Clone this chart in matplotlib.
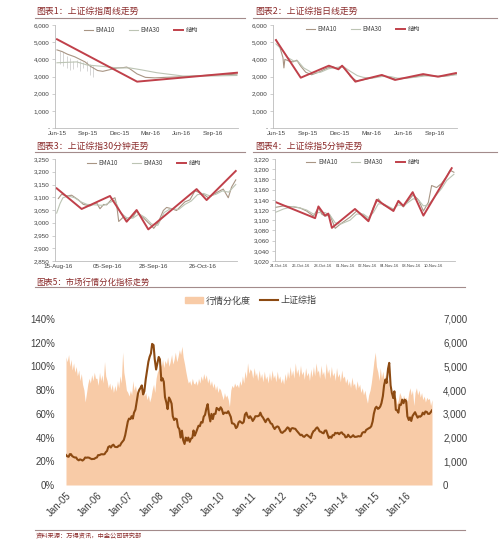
import numpy as np
import pandas as pd
import matplotlib
matplotlib.use('Agg')
import matplotlib.pyplot as plt
from matplotlib.lines import Line2D
from matplotlib.patches import Patch

plt.rcParams['font.family'] = ['Liberation Sans', 'Noto Sans CJK SC', 'DejaVu Sans']
CJK = ['Noto Sans CJK SC', 'Liberation Sans', 'DejaVu Sans']

# ---------------- data ----------------
titles = ['图表1：上证综指周线走势', '图表2：上证综指日线走势',
          '图表3：上证综指30分钟走势', '图表4：上证综指5分钟走势',
          '图表5：市场行情分化指标走势']
legend_small = ['EMA10', 'EMA30', '结构']
legend_big = ['行情分化度', '上证综指']
source_text = '资料来源：万得资讯，中金公司研究部'

# chart 1 (weekly) x = months since Jun-2015
c1_xticks = [0, 3, 6, 9, 12, 15]
c1_xlabels = ['Jun-15', 'Sep-15', 'Dec-15', 'Mar-16', 'Jun-16', 'Sep-16']
c1_struct_m = [0, 7.7, 17.3]
c1_struct_v = [5170, 2700, 3220]
c1_ema10_m = [0, 0.5, 1.0, 1.7, 2.2, 2.7, 3.2, 3.9, 4.4, 5.1, 5.8, 6.4, 6.7, 7.0, 7.7, 8.5,
              9.4, 10.4, 11.8, 13.3, 14.7, 16.2, 17.3]
c1_ema10_v = [4550, 4450, 4300, 4150, 4000, 3850, 3600, 3350, 3300, 3400, 3500, 3520, 3550, 3450,
              3150, 2950, 2920, 2950, 2980, 3030, 3080, 3100, 3140]
c1_ema30_m = [0, 1.9, 2.9, 4.2, 5.8, 7.0, 8.0, 9.6, 12.1, 14.8, 17.3]
c1_ema30_v = [3800, 3850, 3670, 3600, 3500, 3500, 3400, 3220, 3030, 3030, 3060]
c1_bar_m = [0.29, 0.61, 0.93, 1.25, 1.57, 1.89, 2.21, 2.53, 2.85, 3.17, 3.49]
c1_bar_hi = [4500, 4400, 4200, 4100, 3900, 3950, 3900, 3850, 3900, 3700, 3600]
c1_bar_lo = [3700, 3600, 3500, 3400, 3450, 3550, 3300, 3500, 3300, 3100, 3000]

# chart 2 (daily)
c2_struct_m = [0, 2.34, 5.0, 5.9, 6.25, 7.5, 8.3, 10.0, 11.25, 13.9, 15.3, 17.0]
c2_struct_v = [5120, 2930, 3630, 3420, 3630, 2700, 2830, 3090, 2800, 3140, 2990, 3200]
c2_ema10_m = [0, 0.37, 0.66, 0.75, 0.84, 1.22, 1.59, 1.97, 2.34, 2.81, 3.37, 4.03, 4.69, 5.25,
              5.81, 6.19, 6.56, 7.03, 7.59, 8.15, 8.9, 9.84, 10.59, 11.34, 12.18, 13.12, 14.06,
              14.71, 15.46, 16.4, 17.06]
c2_ema10_v = [5150, 4700, 4100, 3500, 4000, 3900, 3850, 3950, 3600, 3250, 3100, 3250, 3450, 3580,
              3480, 3600, 3450, 3000, 2750, 2800, 2900, 3050, 3000, 2830, 2900, 2980, 3080,
              3050, 2990, 3050, 3150]
c2_ema30_m = [0, 0.66, 1.12, 1.69, 2.06, 2.62, 3.47, 4.22, 4.97, 5.62, 6.37, 7.03, 7.69, 8.25,
              9.09, 10.03, 10.78, 11.5, 12.65, 14.06, 15.46, 17.06]
c2_ema30_v = [4900, 4500, 4100, 3900, 3900, 3500, 3200, 3250, 3450, 3520, 3580, 3300, 3050, 2950,
              2900, 3000, 3000, 2900, 2920, 3030, 3020, 3100]

# chart 3 (30 min) x = bar number
c3_xticks = [0, 120, 228, 348]
c3_xlabels = ['15-Aug-16', '05-Sep-16', '28-Sep-16', '26-Oct-16']
c3_struct_x = [-3, 57, 125, 165, 189, 217, 333, 357, 427]
c3_struct_v = [3135, 3054, 3105, 3004, 3050, 2974, 3132, 3089, 3203]
c3_ema10_x = [1, 9, 20, 33, 49, 61, 77, 93, 101, 110, 117, 129, 137, 141, 146, 157, 169, 181,
              189, 197, 205, 217, 225, 230, 241, 253, 261, 273, 285, 293, 305, 317, 329, 341,
              353, 361, 373, 385, 397, 409, 417, 427]
c3_ema10_v = [3095, 3112, 3105, 3108, 3090, 3072, 3066, 3078, 3055, 3072, 3070, 3092, 3098, 3070,
              3005, 3022, 3012, 3025, 3045, 3030, 3020, 3000, 2988, 2978, 3002, 3048, 3060, 3055,
              3048, 3062, 3082, 3090, 3125, 3118, 3108, 3098, 3110, 3122, 3132, 3098, 3140, 3168]
c3_ema30_x = [-3, 5, 12, 25, 40, 55, 70, 90, 110, 125, 137, 150, 165, 180, 195, 210, 225, 240,
              255, 270, 290, 305, 320, 335, 350, 365, 380, 395, 410, 427]
c3_ema30_v = [3038, 3075, 3098, 3105, 3098, 3082, 3072, 3070, 3068, 3080, 3088, 3040, 3020, 3018,
              3035, 3020, 2995, 2990, 3040, 3055, 3052, 3072, 3085, 3110, 3115, 3105, 3112, 3125,
              3120, 3150]

# chart 4 (5 min)
c4_xticks = [0, 80, 160, 240, 320, 400, 480, 560]
c4_xlabels = ['24-Oct-16', '26-Oct-16', '28-Oct-16', '01-Nov-16', '02-Nov-16', '04-Nov-16',
              '08-Nov-16', '10-Nov-16']
c4_struct_x = [-15, 131, 143, 167, 179, 192, 276, 325, 355, 416, 434, 452, 486, 525, 628]
c4_struct_v = [3136, 3104, 3127, 3109, 3113, 3085, 3122, 3098, 3140, 3118, 3138, 3128, 3155, 3109, 3202]
c4_ema10_x = [-15, 16, 52, 76, 100, 125, 143, 155, 167, 185, 204, 222, 258, 282, 307, 325, 343,
              361, 379, 416, 434, 452, 470, 488, 507, 525, 543, 555, 573, 591, 610, 622, 636]
c4_ema10_v = [3125, 3128, 3126, 3124, 3118, 3108, 3125, 3112, 3108, 3110, 3084, 3092, 3106, 3118,
              3110, 3100, 3125, 3142, 3130, 3120, 3136, 3126, 3138, 3150, 3140, 3118, 3135, 3168,
              3164, 3172, 3186, 3198, 3194]
c4_ema30_x = [-15, 16, 52, 76, 100, 125, 143, 167, 185, 204, 222, 258, 282, 307, 325, 343, 361,
              379, 416, 434, 452, 470, 488, 507, 525, 543, 573, 591, 610, 636]
c4_ema30_v = [3115, 3122, 3127, 3124, 3120, 3112, 3115, 3115, 3110, 3095, 3092, 3100, 3112, 3112,
              3105, 3115, 3132, 3132, 3122, 3130, 3128, 3135, 3142, 3140, 3128, 3130, 3150, 3162,
              3178, 3190]

# chart 5: semi-monthly, Jan-2005 .. Nov-2016
divergence = [
    108, 104, 110, 100, 106, 97, 103, 95, 100, 92, 97, 88, 94, 85, 80, 70, 78, 85, 90, 86, 93, 88, 95, 90,
    90, 84, 95, 88, 93, 86, 104, 92, 88, 82, 86, 80, 85, 78, 84, 79, 88, 82, 92, 86, 112, 95, 88, 80,
    78, 75, 80, 76, 88, 80, 84, 78, 82, 76, 85, 80, 80, 75, 78, 72, 76, 70, 74, 80, 85, 78, 90, 95,
    98, 104, 100, 106, 99, 105, 102, 108, 100, 104, 110, 102, 106, 112, 104, 108, 114, 110, 117, 108, 102, 96, 90, 86,
    88, 84, 90, 86, 85, 88, 84, 90, 86, 92, 88, 94, 89, 93, 86, 90, 84, 88, 82, 86, 80, 84, 78, 82,
    80, 76, 72, 78, 74, 76, 72, 66, 80, 84, 82, 86, 83, 85, 82, 88, 84, 92, 86, 96, 90, 103, 94, 98,
    96, 90, 99, 92, 95, 88, 97, 90, 94, 87, 96, 89, 92, 86, 95, 88, 97, 90, 93, 87, 96, 89, 92, 86,
    90, 85, 94, 88, 96, 90, 100, 92, 97, 90, 103, 94, 98, 91, 101, 93, 96, 89, 99, 92, 95, 88, 98, 91,
    100, 92, 103, 95, 97, 90, 101, 93, 96, 89, 103, 94, 98, 90, 100, 92, 95, 88, 99, 91, 94, 87, 97, 90,
    92, 86, 90, 84, 88, 82, 91, 84, 86, 80, 88, 82, 85, 78, 82, 76, 80, 74, 69, 76, 80, 86, 95, 104,
    112, 100, 95, 88, 99, 90, 96, 88, 93, 86, 90, 82, 78, 72, 76, 70, 74, 68, 72, 78, 75, 70, 76, 72,
    74, 70, 78, 82, 76, 80, 67, 78, 82, 76, 80, 74, 78, 72, 75, 70, 74, 72, 73, 67, 72]
sse_index = [
    1266, 1210, 1190, 1300, 1300, 1220, 1180, 1160, 1160, 1080, 1040, 1080, 1060, 1030, 1080, 1160, 1150, 1160, 1150, 1120, 1090, 1100, 1100, 1140,
    1161, 1260, 1260, 1290, 1300, 1290, 1300, 1380, 1440, 1600, 1640, 1580, 1670, 1700, 1610, 1600, 1600, 1660, 1660, 1760, 1840, 1900, 2100, 2350,
    2675, 2800, 2780, 2900, 2800, 3050, 3180, 3500, 3850, 4000, 4100, 4200, 3820, 3950, 4470, 4800, 5200, 5400, 5550, 5950, 5900, 5300, 4870, 5100,
    5400, 5300, 4400, 4500, 4350, 3700, 3470, 3200, 3690, 3600, 3430, 2900, 2740, 2800, 2775, 2450, 2350, 2000, 2290, 1900, 1730, 2000, 1870, 2000,
    1820, 1950, 1990, 2300, 2080, 2200, 2370, 2500, 2480, 2650, 2630, 2880, 2960, 3200, 3410, 3000, 2680, 3000, 2780, 3000, 3000, 3250, 3200, 3150,
    3277, 3200, 2990, 3050, 3050, 3030, 3110, 3000, 2870, 2600, 2590, 2550, 2400, 2450, 2640, 2690, 2640, 2600, 2660, 2970, 3050, 2900, 2820, 2900,
    2808, 2700, 2790, 2900, 2900, 2900, 2930, 3050, 2910, 2850, 2740, 2650, 2760, 2800, 2700, 2600, 2570, 2450, 2360, 2430, 2470, 2450, 2330, 2220,
    2199, 2250, 2290, 2360, 2430, 2400, 2260, 2380, 2400, 2380, 2370, 2300, 2230, 2170, 2100, 2120, 2050, 2030, 2090, 2120, 2070, 2030, 1980, 2150,
    2270, 2300, 2390, 2430, 2360, 2260, 2240, 2200, 2180, 2290, 2300, 2150, 1980, 2040, 1990, 2100, 2100, 2200, 2175, 2200, 2140, 2200, 2220, 2150,
    2116, 2010, 2030, 2120, 2050, 2010, 2050, 2100, 2030, 2030, 2040, 2060, 2050, 2060, 2200, 2230, 2220, 2320, 2360, 2390, 2420, 2480, 2680, 3000,
    3235, 3300, 3210, 3240, 3310, 3450, 3750, 4200, 4450, 4300, 4900, 5150, 4200, 3900, 3660, 3950, 3170, 3150, 3050, 3390, 3380, 3600, 3450, 3600,
    3539, 2900, 2740, 2850, 2700, 2900, 3000, 3070, 2940, 2840, 2900, 2880, 2930, 3050, 2980, 3100, 3080, 3000, 3000, 3060, 3150]
c5_years = list(range(2005, 2017))
c5_xlabels = ['Jan-%02d' % (y % 100) for y in c5_years]

# ---------------- style ----------------
TITLE_C = '#8B2B2B'
RULE_C = '#A38B8B'
TXT_C = '#404040'
C10 = '#A89584'
C30 = '#BCC4B4'
CS = '#C0404A'
FILL_C = '#F8CBA7'
LINE_C = '#8C4A12'
SPINE_C = '#BBBBBB'

W, H = 500, 547
fig = plt.figure(figsize=(W / 100, H / 100), dpi=100)


def add_ax(x0, y0, x1, y1):
    return fig.add_axes([x0 / W, 1 - y1 / H, (x1 - x0) / W, (y1 - y0) / H])


def title(x, y, s, x0, x1, ly, size=6.4):
    fig.text(x / W, 1 - y / H, s, fontsize=size, color=TITLE_C, ha='left', va='center', family=CJK)
    fig.add_artist(Line2D([x0 / W, x1 / W], [1 - ly / H] * 2, color=RULE_C, lw=0.8,
                          transform=fig.transFigure))


def small(ax, xs, vs, x10, v10, x30, v30, ylim, ystep, xlim, xt, xl, dash_zero, leg_x, leg_y,
          xl_fs=4.5):
    ax.plot(x10, v10, color=C10, lw=0.8, label=legend_small[0])
    ax.plot(x30, v30, color=C30, lw=0.8, label=legend_small[1])
    ax.plot(xs, vs, color=CS, lw=1.4, label=legend_small[2])
    ax.set_xlim(*xlim)
    ax.set_ylim(*ylim)
    yt = np.arange(ylim[0], ylim[1] + 1, ystep)
    ax.set_yticks(yt)
    ax.set_yticklabels(['-' if (dash_zero and v == 0) else '{:,}'.format(int(v)) for v in yt])
    ax.set_xticks(xt)
    ax.set_xticklabels(xl)
    for s in ['top', 'right']:
        ax.spines[s].set_visible(False)
    for s in ['left', 'bottom']:
        ax.spines[s].set_color(SPINE_C)
        ax.spines[s].set_linewidth(0.6)
    ax.tick_params(axis='y', labelsize=4.5, colors=SPINE_C, labelcolor=TXT_C, length=2, width=0.5, pad=2)
    ax.tick_params(axis='x', labelsize=xl_fs, colors=SPINE_C, labelcolor=TXT_C, length=0, pad=2)
    leg = ax.legend(loc='center', bbox_to_anchor=(leg_x, leg_y), ncol=3, frameon=False,
                    handlelength=1.4, columnspacing=2.2, handletextpad=0.5,
                    prop={'family': CJK, 'size': 4.5})
    for t in leg.get_texts():
        t.set_color(TXT_C)


# titles
title(36, 11, titles[0], 35, 245, 18)
title(255, 11, titles[1], 253, 497, 18)
title(36, 146, titles[2], 35, 245, 152)
title(255, 146, titles[3], 253, 497, 152)
title(36, 282, titles[4], 35, 465, 287, size=6.0)

ax1 = add_ax(55, 25, 238, 128)
ax1.vlines(c1_bar_m, c1_bar_lo, c1_bar_hi, color='#CFCFCF', lw=0.6)
small(ax1, c1_struct_m, c1_struct_v, c1_ema10_m, c1_ema10_v, c1_ema30_m, c1_ema30_v,
      (0, 6000), 1000, (-0.19, 17.4), c1_xticks, c1_xlabels, True, 0.47, 0.95)

ax2 = add_ax(273, 25, 457, 128)
small(ax2, c2_struct_m, c2_struct_v, c2_ema10_m, c2_ema10_v, c2_ema30_m, c2_ema30_v,
      (0, 6000), 1000, (-0.28, 17.1), c1_xticks, c1_xlabels, True, 0.49, 0.96)

ax3 = add_ax(55, 159, 237, 261)
small(ax3, c3_struct_x, c3_struct_v, c3_ema10_x, c3_ema10_v, c3_ema30_x, c3_ema30_v,
      (2850, 3250), 50, (-7, 430), c3_xticks, c3_xlabels, False, 0.49, 0.96)

ax4 = add_ax(275, 159, 455, 261)
small(ax4, c4_struct_x, c4_struct_v, c4_ema10_x, c4_ema10_v, c4_ema30_x, c4_ema30_v,
      (3020, 3220), 20, (-15, 640), c4_xticks, c4_xlabels, False, 0.49, 0.97, xl_fs=3.0)

# chart 5
dates5 = pd.date_range('2005-01-01', periods=len(divergence), freq='SMS')
ax5 = add_ax(66, 319, 432, 485)
ax5.fill_between(dates5, np.array(divergence) / 100.0, 0, color=FILL_C, lw=0)
ax5.set_ylim(0, 1.4)
ax5.set_xlim(dates5[0], dates5[-1])
ax5.set_yticks(np.arange(0, 1.41, 0.2))
ax5.set_yticklabels(['%d%%' % round(v * 100) for v in np.arange(0, 1.41, 0.2)])
xt5 = pd.to_datetime(['%d-01-01' % y for y in c5_years])
ax5.set_xticks(xt5)
ax5.set_xticklabels(c5_xlabels, rotation=45, ha='right', va='top', rotation_mode='anchor')
ax5r = ax5.twinx()
ax5r.plot(dates5, sse_index, color=LINE_C, lw=1.5)
ax5r.set_ylim(0, 7000)
ax5r.set_yticks(np.arange(0, 7001, 1000))
ax5r.set_yticklabels(['0'] + ['{:,}'.format(v) for v in range(1000, 7001, 1000)])
ax5r.set_xlim(dates5[0], dates5[-1])
for a in (ax5, ax5r):
    for s in a.spines.values():
        s.set_visible(False)
    a.tick_params(labelsize=7, colors=TXT_C, length=0, pad=8)
ax5.tick_params(axis='x', pad=4)
handles = [Patch(color=FILL_C), Line2D([0], [0], color=LINE_C, lw=1.5)]
leg5 = ax5.legend(handles, legend_big, loc='center', bbox_to_anchor=(0.505, 1.11), ncol=2,
                  frameon=False, prop={'family': CJK, 'size': 6.5}, handlelength=2.0,
                  handleheight=0.6, columnspacing=1.0, handletextpad=0.3)
for t in leg5.get_texts():
    t.set_color(TXT_C)

# source
fig.add_artist(Line2D([35 / W, 465 / W], [1 - 530 / H] * 2, color=RULE_C, lw=0.8,
                      transform=fig.transFigure))
fig.text(36 / W, 1 - 536 / H, source_text, fontsize=4.5, color=TITLE_C, ha='left', va='center',
         family=CJK)

fig.savefig('out.png', dpi=100)
